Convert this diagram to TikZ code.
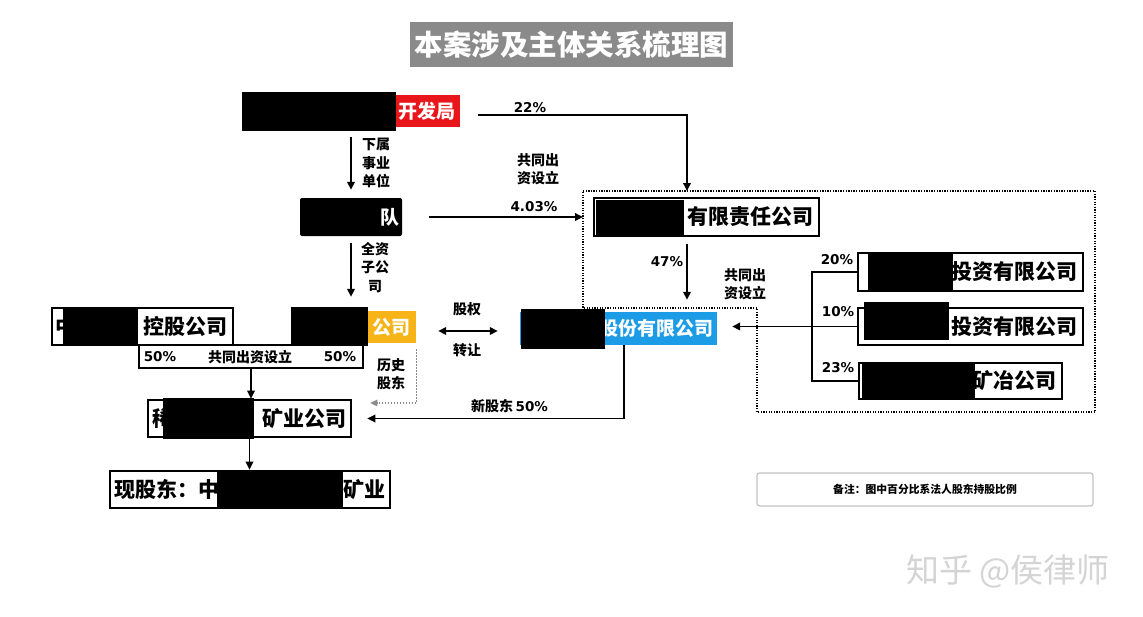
\documentclass[tikz,border=0pt]{standalone}
\usepackage{fontspec}
\setmainfont{Noto Sans CJK SC}
\newfontfamily\pctfont{DejaVu Sans}
\usetikzlibrary{arrows.meta}
\definecolor{titlegray}{HTML}{8A8A8A}
\definecolor{myred}{HTML}{E8151B}
\definecolor{myblue}{HTML}{1C9BE6}
\definecolor{myyellow}{HTML}{F6B418}
\definecolor{wmgray}{HTML}{D4D4D4}
\definecolor{notegray}{HTML}{C4C4C4}
\definecolor{histgray}{HTML}{8C8C8C}
\begin{document}
\begin{tikzpicture}[x=1pt,y=-1pt,
 box/.style={draw=black, line width=2.6pt, fill=white, inner sep=0pt},
 fillbox/.style={draw=none, inner sep=0pt},
 big/.style={font=\fontsize{21}{21}\selectfont\bfseries, inner sep=0pt},
 mid/.style={font=\fontsize{19}{19}\selectfont\bfseries, inner sep=0pt, text=white},
 lab/.style={font=\fontsize{14}{18.5}\selectfont\bfseries, align=center, inner sep=0pt},
 pct/.style={font=\pctfont\bfseries\fontsize{13.5}{13.5}\selectfont, inner sep=0pt},
 conn/.style={line width=1.8pt, -{Triangle[length=8pt,width=7.5pt]}},
 dbl/.style={line width=1.8pt, {Triangle[length=8pt,width=7.5pt]}-{Triangle[length=8pt,width=7.5pt]}},
 hist/.style={draw=histgray, line width=1.4pt, dash pattern=on 1.5pt off 1.5pt, -{Triangle[length=7pt,width=6.5pt]}},
 plain/.style={line width=1.8pt},
 grp/.style={line width=1.4pt, dash pattern=on 1.3pt off 1.3pt},
 redact/.style={fill=black}
]
\useasboundingbox (0,0) rectangle (1143,616);
\fill[white] (0,0) rectangle (1143,616);

% title
\node[fill=titlegray, text=white, font=\fontsize{28.5}{29}\selectfont\bfseries, minimum width=323pt, minimum height=45pt, inner sep=0pt] (title) at (571.5,44.5) {本案涉及主体关系梳理图};

% group outline
\coordinate (g1) at (583,191);
\coordinate (g2) at (1095,191);
\coordinate (g3) at (1095,412);
\coordinate (g4) at (757,412);
\coordinate (g5) at (757,308);
\coordinate (g6) at (583,308);
\coordinate (gtop) at (687,191);
\draw[grp] (g1) -- (g2) -- (g3) -- (g4) -- (g5) -- (g6) -- cycle;

% nodes
\node[fillbox, fill=myred, minimum width=160pt, minimum height=32pt] (n1) at (380,111) {};
\node[mid, anchor=east] (n1t) at (456,111) {开发局};
\fill[redact] (242,92) rectangle (396,131);

\node[fillbox, fill=black, rounded corners=2pt, minimum width=102pt, minimum height=38pt] (n2) at (351,217) {};
\node[mid, anchor=east] (n2t) at (400,217) {队};

\node[box, minimum width=225pt, minimum height=38pt] (n3) at (706.5,217) {};
\node[big, anchor=east] (n3t) at (814,217) {有限责任公司};
\fill[redact] (596,200) rectangle (684,235);

\node[fillbox, fill=myblue, minimum width=197pt, minimum height=33pt] (n4) at (618.5,328.5) {};
\node[mid, anchor=east] (n4t) at (714,328.5) {股份有限公司};
\fill[redact] (521,309) rectangle (605,349);

\node[box, minimum width=225pt, minimum height=38pt] (n5) at (970.5,272) {};
\node[big, anchor=east] (n5t) at (1078,272) {投资有限公司};
\fill[redact] (868,254) rectangle (953,291);

\node[box, minimum width=225pt, minimum height=37pt] (n6) at (970.5,326.5) {};
\node[big, anchor=east] (n6t) at (1078,326.5) {投资有限公司};
\fill[redact] (864,302) rectangle (949,340);

\node[box, minimum width=203pt, minimum height=36pt] (n7) at (960.5,381) {};
\node[big, anchor=east] (n7t) at (1057,381) {矿冶公司};
\fill[redact] (862,363) rectangle (975,400);

\node[box, minimum width=181pt, minimum height=37pt] (n8) at (142.5,326.5) {};
\node[big, anchor=west] (n8a) at (55,326.5) {中};
\node[big, anchor=east] (n8t) at (228,326.5) {控股公司};
\fill[redact] (63,307) rectangle (138,346);

\node[fillbox, fill=myyellow, minimum width=125pt, minimum height=32pt] (n9) at (353.5,327) {};
\node[mid, anchor=east] (n9t) at (411,327) {公司};
\fill[redact] (291,307) rectangle (368,346);

\node[draw=black, line width=2.2pt, fill=white, minimum width=224pt, minimum height=23pt, inner sep=0pt] (jb) at (251,356.5) {};
\node[pct] (jb1) at (160,357) {50\%};
\node[lab] (jb2) at (250,357) {共同出资设立};
\node[pct] (jb3) at (340,357) {50\%};

\node[box, minimum width=203pt, minimum height=37pt] (n10) at (249.5,418.5) {};
\node[big, anchor=west] (n10a) at (152,418.5) {稀};
\node[big, anchor=east] (n10t) at (347,418.5) {矿业公司};
\fill[redact] (163,398) rectangle (254,439);

\node[box, minimum width=280pt, minimum height=37pt] (n11) at (250,489.5) {};
\node[big, anchor=west] (n11a) at (114,489.5) {现股东：中};
\node[big, anchor=east] (n11t) at (386,489.5) {矿业};
\fill[redact] (217,470) rectangle (343,509);

% note
\node[draw=notegray, line width=1.3pt, rounded corners=2.5pt, minimum width=336pt, minimum height=33pt, inner sep=0pt, font=\fontsize{10.8}{11}\selectfont\bfseries] (note) at (925,489.5) {备注：图中百分比系法人股东持股比例};

% watermark
\node[text=wmgray, font=\fontsize{33}{33}\selectfont, inner sep=0pt] (wm) at (1008,571) {知乎 @侯律师};

% connectors
\draw[conn] ([xshift=18pt,yshift=-4pt]n1.east) -| (gtop);
\node[pct] (l22) at (530,108) {22\%};

\draw[conn, shorten <=10pt, shorten >=8pt] (n2.north |- n1.south) -- (n2.north);
\node[lab, anchor=north] (lxs) at (376,138) {下属\\事业\\单位};

\draw[conn, shorten <=27pt] (n2.east) -- (n2.east -| g1);
\node[lab, anchor=north] (lgt1) at (538,153) {共同出\\资设立};
\node[pct] (l403) at (534,207) {4.03\%};

\draw[conn, shorten <=7pt, shorten >=14pt] (n2.south) -- (n2.south |- n9.north);
\node[lab, anchor=north] (lqz) at (375,242) {全资\\子公\\司};

\draw[conn, shorten <=7pt, shorten >=12pt] (gtop |- n3.south) -- (gtop |- n4.north);
\node[pct] (l47) at (667,262) {47\%};
\node[lab, anchor=north] (lgt2) at (745,268) {共同出\\资设立};

\coordinate (bx) at (812,0);
\draw[plain] (n5.west) -- (n5.west -| bx) -- (n7.west -| bx) -- (n7.west);
\draw[conn, shorten >=15pt] (n6.west) -- (n6.west -| n4.east);
\node[pct] (l20) at (837,260) {20\%};
\node[pct] (l10) at (838,312) {10\%};
\node[pct] (l23) at (838,368) {23\%};

\draw[dbl, shorten <=22pt, shorten >=22pt] ([yshift=-4pt]n9.east) -- ([yshift=-4pt]n9.east -| n4.west);
\node[lab] (lgq) at (467,309) {股权};
\node[lab] (lzr) at (467,350) {转让};

\draw[hist, shorten <=6pt, shorten >=18pt] (n9.south east) |- ([yshift=15.5pt]n10.east);
\node[lab, anchor=north] (lls) at (391,358) {历史\\股东};

\draw[conn, shorten >=15pt] ([xshift=5.5pt]n4.south) |- (n10.east);
\node[lab, anchor=base] (lxgd) at (492,411) {新股东};
\node[pct, anchor=base west] (lxgd2) at (lxgd.base east) {\,50\%};

\draw[conn] (jb.south) -- (jb.south |- n10.north);
\draw[conn] (n10.south) -- (n10.south |- n11.north);
\end{tikzpicture}
\end{document}
